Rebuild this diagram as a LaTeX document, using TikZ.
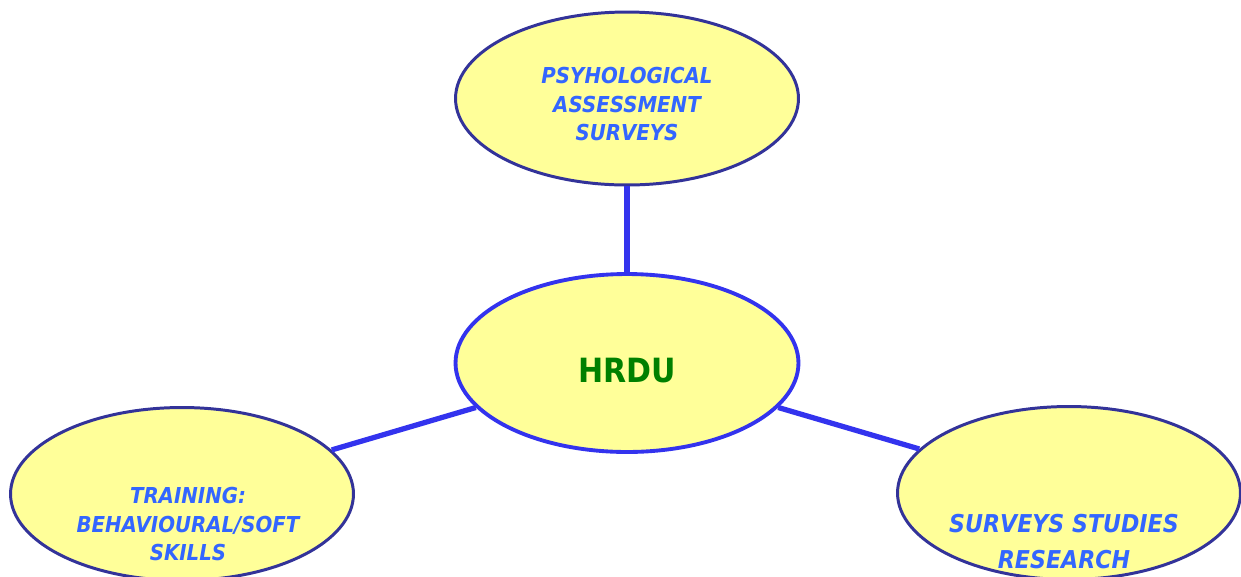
\documentclass[tikz,border=0pt]{standalone}
\usepackage{fontspec}
\setmainfont{DejaVu Sans}[FakeStretch=0.9]
\usetikzlibrary{shapes.geometric}

\definecolor{paleyellow}{HTML}{FFFF99}
\definecolor{rimblue}{HTML}{333399}
\definecolor{linkblue}{HTML}{3333EE}
\definecolor{textblue}{HTML}{3366FF}
\definecolor{hrdugreen}{HTML}{008000}

\begin{document}
\begin{tikzpicture}[x=0.02cm, y=-0.02cm,
  bubble/.style={ellipse, draw=rimblue, line width=1.7pt, fill=paleyellow,
    minimum width=6.86cm, minimum height=3.46cm, inner sep=0pt},
  hub/.style={bubble, draw=linkblue, line width=2.2pt, minimum height=3.56cm},
  link/.style={linkblue, line width=3pt},
  lbl/.style={text=textblue, align=center, font=\bfseries\itshape\fontsize{12.5}{16.5}\selectfont}]

% the page
\useasboundingbox (0,0) rectangle (1241,576);

% the ellipses
\node[bubble] (psy) at (627,98.5) {};
\node[hub] (hrdu) at (627,363) {};
\node[bubble] (train) at (182,494) {};
\node[bubble] (survey) at (1069,493) {};

% the links
\draw[link] (psy) -- (hrdu);
\draw[link] (hrdu) -- (train);
\draw[link] (hrdu) -- (survey);

% the texts
\node[text=hrdugreen, font=\bfseries\fontsize{19}{21}\selectfont] (hrdulbl) at ([yshift=-0.15cm]hrdu.center) {HRDU};
\node[lbl] (psylbl) at ([yshift=-0.11cm]psy.center) {PSYHOLOGICAL\\ASSESSMENT\\SURVEYS};
\node[lbl] (trainlbl) at ([xshift=0.12cm, yshift=-0.6cm]train.center) {TRAINING:\\BEHAVIOURAL/SOFT\\SKILLS};
\node[lbl, font=\bfseries\itshape\fontsize{14}{21}\selectfont] (surveylbl) at ([xshift=-0.1cm, yshift=-0.97cm]survey.center) {SURVEYS STUDIES\\RESEARCH};

\end{tikzpicture}
\end{document}
